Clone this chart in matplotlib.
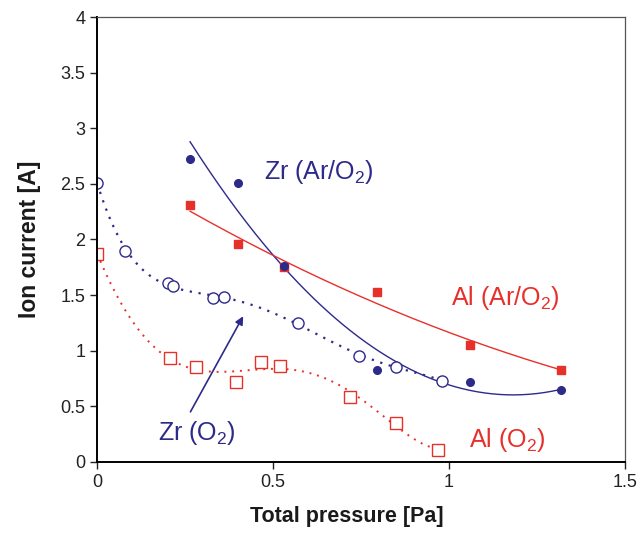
import matplotlib.pyplot as plt
import matplotlib
import numpy as np

matplotlib.rcParams['font.family'] = ['Liberation Sans', 'DejaVu Sans']
matplotlib.rcParams['mathtext.fontset'] = 'custom'
matplotlib.rcParams['mathtext.rm'] = 'Liberation Sans'
matplotlib.rcParams['mathtext.it'] = 'Liberation Sans'

BLUE = '#2E2A8A'
RED = '#E8302A'

# Zr, Ar/O2 mixture (filled circles)
zr_mix_p = [0.264, 0.40, 0.53, 0.795, 1.06, 1.32]
zr_mix_i = [2.72, 2.51, 1.76, 0.83, 0.72, 0.65]

# Al, Ar/O2 mixture (filled squares)
al_mix_p = [0.264, 0.40, 0.53, 0.795, 1.06, 1.32]
al_mix_i = [2.31, 1.96, 1.75, 1.53, 1.05, 0.83]

# Zr, pure O2 (open circles)
zr_o2_p = [0.0, 0.08, 0.20, 0.215, 0.33, 0.36, 0.57, 0.745, 0.85, 0.98]
zr_o2_i = [2.51, 1.90, 1.61, 1.58, 1.47, 1.48, 1.25, 0.955, 0.855, 0.73]

# Al, pure O2 (open squares)
al_o2_p = [0.0, 0.207, 0.28, 0.395, 0.466, 0.52, 0.72, 0.85, 0.97]
al_o2_i = [1.87, 0.93, 0.85, 0.72, 0.90, 0.865, 0.585, 0.35, 0.11]


def trend(p, i, deg):
    c = np.polyfit(p, i, deg)
    xs = np.linspace(min(p), max(p), 200)
    return xs, np.polyval(c, xs)


fig, ax = plt.subplots(figsize=(6.44, 5.34), dpi=100)
fig.subplots_adjust(left=0.151, right=0.970, bottom=0.135, top=0.968)

# trend lines
xs, ys = trend(zr_mix_p, zr_mix_i, 2)
ax.plot(xs, ys, color=BLUE, lw=1.0)
xs, ys = trend(al_mix_p, al_mix_i, 2)
ax.plot(xs, ys, color=RED, lw=1.0)
xs, ys = trend(zr_o2_p, zr_o2_i, 5)
ax.plot(xs, ys, color=BLUE, lw=1.6, ls=(0, (1, 3)))
xs, ys = trend(al_o2_p, al_o2_i, 5)
ax.plot(xs, ys, color=RED, lw=1.4, ls=(0, (1, 3)))

# markers
ax.plot(al_mix_p, al_mix_i, 's', color=RED, ms=6, ls='none')
ax.plot(zr_mix_p, zr_mix_i, 'o', color=BLUE, ms=5.5, ls='none')
ax.plot(zr_o2_p, zr_o2_i, 'o', mfc='white', mec=BLUE, mew=1.0, ms=8, ls='none')
ax.plot(al_o2_p, al_o2_i, 's', mfc='white', mec=RED, mew=1.0, ms=8, ls='none')

# labels on the curves
ax.text(0.475, 2.61, 'Zr (Ar/O$_2$)', color=BLUE, fontsize=18, ha='left', va='center')
ax.text(1.005, 1.47, 'Al (Ar/O$_2$)', color=RED, fontsize=18, ha='left', va='center')
ax.text(0.172, 0.26, 'Zr (O$_2$)', color=BLUE, fontsize=18, ha='left', va='center')
ax.text(1.058, 0.2, 'Al (O$_2$)', color=RED, fontsize=18, ha='left', va='center')
ax.annotate('', xy=(0.415, 1.31), xytext=(0.265, 0.45),
            arrowprops=dict(arrowstyle='-|>', color=BLUE, lw=1.2,
                            mutation_scale=12, shrinkA=0, shrinkB=0))

ax.set_xlim(0, 1.5)
ax.set_ylim(0, 4)
ax.set_xticks([0, 0.5, 1, 1.5])
ax.set_xticklabels(['0', '0.5', '1', '1.5'])
ax.set_yticks(np.arange(0, 4.01, 0.5))
ax.set_yticklabels(['0', '0.5', '1', '1.5', '2', '2.5', '3', '3.5', '4'])
ax.tick_params(labelsize=13, direction='out', length=5, width=1, colors='#222222')

ax.set_xlabel('Total pressure [Pa]', fontsize=15.5, fontweight='bold', color='#1a1a1a')
ax.set_ylabel('Ion current [A]', fontsize=16.5, fontweight='bold', color='#1a1a1a')
ax.xaxis.set_label_coords(0.474, -0.1)
ax.yaxis.set_label_coords(-0.106, 0.5)

ax.spines['left'].set_linewidth(1.4)
ax.spines['bottom'].set_linewidth(1.4)
ax.spines['top'].set_color('#555555')
ax.spines['right'].set_color('#555555')
ax.spines['top'].set_linewidth(0.9)
ax.spines['right'].set_linewidth(0.9)

plt.savefig('out.png', dpi=100)
